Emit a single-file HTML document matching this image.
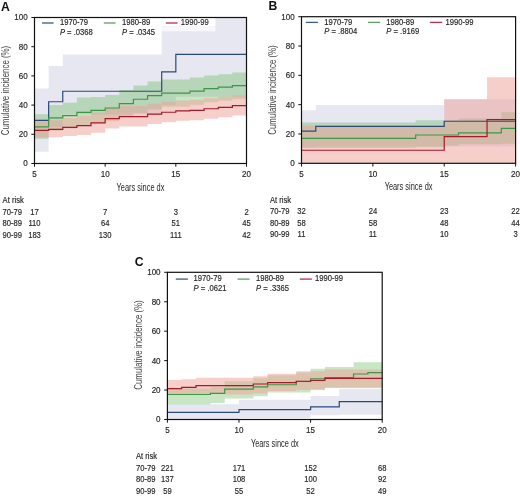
<!DOCTYPE html>
<html><head><meta charset="utf-8"><style>
html,body{margin:0;padding:0;background:#fff;}
body{width:520px;height:496px;overflow:hidden;}
svg{display:block;will-change:transform;font-family:"Liberation Sans", sans-serif;}
.s{stroke:#262626;stroke-width:0.16px;}
</style></head><body>
<svg width="520" height="496" viewBox="0 0 520 496">
<rect width="520" height="496" fill="#fff"/>
<g>
<path d="M34.5 88.6L48.63 88.6L48.63 65.97L62.77 65.97L62.77 54.58L161.7 54.58L161.7 17.5L246.5 17.5L246.5 96.78L175.83 96.78L175.83 105.1L161.7 105.1L161.7 114.59L62.77 114.59L62.77 127L48.63 127L48.63 151.82L34.5 151.82Z" fill="#8787b9" fill-opacity="0.2"/>
<path d="M34.5 114.3L48.63 114.3L48.63 105.1L62.77 105.1L62.77 102.76L76.9 102.76L76.9 97.51L91.03 97.51L91.03 97.07L105.17 97.07L105.17 94.88L119.3 94.88L119.3 89.92L133.43 89.92L133.43 85.39L147.57 85.39L147.57 81.45L161.7 81.45L161.7 79.4L175.83 79.4L175.83 79.4L189.97 79.4L189.97 77.51L204.1 77.51L204.1 75.46L218.23 75.46L218.23 74.15L232.37 74.15L232.37 72.54L246.5 72.54L246.5 99.26L232.37 99.26L232.37 100.72L218.23 100.72L218.23 102.18L204.1 102.18L204.1 104.66L189.97 104.66L189.97 106.71L175.83 106.71L175.83 106.71L161.7 106.71L161.7 109.48L147.57 109.48L147.57 113.13L133.43 113.13L133.43 116.78L119.3 116.78L119.3 121.16L105.17 121.16L105.17 123.35L91.03 123.35L91.03 125.54L76.9 125.54L76.9 128.46L62.77 128.46L62.77 130.65L48.63 130.65L48.63 138.68L34.5 138.68Z" fill="#48ac37" fill-opacity="0.3"/>
<path d="M34.5 121.6L48.63 121.6L48.63 120.21L62.77 120.21L62.77 117.95L76.9 117.95L76.9 115.69L91.03 115.69L91.03 112.69L105.17 112.69L105.17 108.02L119.3 108.02L119.3 106.12L133.43 106.12L133.43 106.12L147.57 106.12L147.57 103.64L161.7 103.64L161.7 101.74L175.83 101.74L175.83 100.43L189.97 100.43L189.97 99.84L204.1 99.84L204.1 98.24L218.23 98.24L218.23 96.78L232.37 96.78L232.37 95.17L246.5 95.17L246.5 115.61L232.37 115.61L232.37 117.22L218.23 117.22L218.23 118.68L204.1 118.68L204.1 120.28L189.97 120.28L189.97 120.87L175.83 120.87L175.83 122.18L161.7 122.18L161.7 124.08L147.57 124.08L147.57 126.56L133.43 126.56L133.43 126.56L119.3 126.56L119.3 128.46L105.17 128.46L105.17 132.84L91.03 132.84L91.03 134.96L76.9 134.96L76.9 136.05L62.77 136.05L62.77 137.15L48.63 137.15L48.63 137.37L34.5 137.37Z" fill="#eea098" fill-opacity="0.5"/>
<path d="M34.5 120.43H48.63V101.74H62.77V91.23H161.7V71.96H175.83V54.29H246.5" fill="none" stroke="#2c4a78" stroke-width="1.2"/>
<path d="M34.5 126.85H48.63V117.95H62.77V115.61H76.9V112.4H91.03V110.36H105.17V108.02H119.3V103.64H133.43V99.26H147.57V95.61H161.7V93.13H175.83V93.13H189.97V91.08H204.1V88.6H218.23V87.14H232.37V85.54H246.5" fill="none" stroke="#3c9646" stroke-width="1.2"/>
<path d="M34.5 130.36H48.63V129.34H62.77V127.44H76.9V125.54H91.03V122.91H105.17V118.53H119.3V116.63H133.43V116.63H147.57V114.15H161.7V112.25H175.83V110.94H189.97V110.36H204.1V108.75H218.23V107.29H232.37V105.68H246.5" fill="none" stroke="#a51928" stroke-width="1.2"/>
<rect x="35.1" y="18.1" width="180.3" height="8.2" fill="#fff"/>
<rect x="35.1" y="26.3" width="180.3" height="5" fill="#fff" fill-opacity="0.7"/>
<path d="M42.1 23H53.6" stroke="#3a5a88" stroke-width="1.3"/>
<text transform="translate(59.9 25.2) scale(0.9 1)" font-size="8.5" text-anchor="start" font-weight="normal" fill="#262626" class="s">1970-79</text>
<text transform="translate(59.9 34.6) scale(0.9 1)" font-size="8.5" fill="#262626" class="s"><tspan font-style="italic">P</tspan> = .0368</text>
<path d="M103.8 23H115.6" stroke="#5aa062" stroke-width="1.3"/>
<text transform="translate(122.1 25.2) scale(0.9 1)" font-size="8.5" text-anchor="start" font-weight="normal" fill="#262626" class="s">1980-89</text>
<text transform="translate(122.1 34.6) scale(0.9 1)" font-size="8.5" fill="#262626" class="s"><tspan font-style="italic">P</tspan> = .0345</text>
<path d="M165.8 23H177.6" stroke="#b43250" stroke-width="1.3"/>
<text transform="translate(180.8 25.2) scale(0.9 1)" font-size="8.5" text-anchor="start" font-weight="normal" fill="#262626" class="s">1990-99</text>
<rect x="34.5" y="17.5" width="212" height="146" fill="none" stroke="#111" stroke-width="1.2"/>
<path d="M31.3 163.5H34.5" stroke="#111" stroke-width="1"/>
<text transform="translate(27.7 166.4) scale(0.96 1)" font-size="8.4" text-anchor="end" font-weight="normal" fill="#262626" class="s">0</text>
<path d="M31.3 134.3H34.5" stroke="#111" stroke-width="1"/>
<text transform="translate(27.7 137.2) scale(0.96 1)" font-size="8.4" text-anchor="end" font-weight="normal" fill="#262626" class="s">20</text>
<path d="M31.3 105.1H34.5" stroke="#111" stroke-width="1"/>
<text transform="translate(27.7 108) scale(0.96 1)" font-size="8.4" text-anchor="end" font-weight="normal" fill="#262626" class="s">40</text>
<path d="M31.3 75.9H34.5" stroke="#111" stroke-width="1"/>
<text transform="translate(27.7 78.8) scale(0.96 1)" font-size="8.4" text-anchor="end" font-weight="normal" fill="#262626" class="s">60</text>
<path d="M31.3 46.7H34.5" stroke="#111" stroke-width="1"/>
<text transform="translate(27.7 49.6) scale(0.96 1)" font-size="8.4" text-anchor="end" font-weight="normal" fill="#262626" class="s">80</text>
<path d="M31.3 17.5H34.5" stroke="#111" stroke-width="1"/>
<text transform="translate(27.7 20.4) scale(0.96 1)" font-size="8.4" text-anchor="end" font-weight="normal" fill="#262626" class="s">100</text>
<path d="M34.5 163.5V166.7" stroke="#111" stroke-width="1"/>
<text transform="translate(34.5 176.9) scale(0.96 1)" font-size="8.4" text-anchor="middle" font-weight="normal" fill="#262626" class="s">5</text>
<path d="M105.17 163.5V166.7" stroke="#111" stroke-width="1"/>
<text transform="translate(105.17 176.9) scale(0.96 1)" font-size="8.4" text-anchor="middle" font-weight="normal" fill="#262626" class="s">10</text>
<path d="M175.83 163.5V166.7" stroke="#111" stroke-width="1"/>
<text transform="translate(175.83 176.9) scale(0.96 1)" font-size="8.4" text-anchor="middle" font-weight="normal" fill="#262626" class="s">15</text>
<path d="M246.5 163.5V166.7" stroke="#111" stroke-width="1"/>
<text transform="translate(246.5 176.9) scale(0.96 1)" font-size="8.4" text-anchor="middle" font-weight="normal" fill="#262626" class="s">20</text>
<text x="140.5" y="190.5" font-size="10" text-anchor="middle" fill="#262626" textLength="47.8" lengthAdjust="spacingAndGlyphs">Years since dx</text>
<text transform="translate(8.7 90.5) rotate(-90)" x="0" y="0" font-size="10" text-anchor="middle" fill="#444" textLength="89.5" lengthAdjust="spacingAndGlyphs">Cumulative incidence (%)</text>
<text x="1.1" y="10.8" font-size="12.2" text-anchor="start" font-weight="bold" fill="#111">A</text>
<text transform="translate(2.6 203.1) scale(0.93 1)" font-size="8.2" text-anchor="start" font-weight="normal" fill="#262626" class="s">At risk</text>
<text transform="translate(2.6 214.6) scale(0.93 1)" font-size="8.2" text-anchor="start" font-weight="normal" fill="#262626" class="s">70-79</text>
<text transform="translate(34.5 214.6) scale(0.93 1)" font-size="8.2" text-anchor="middle" font-weight="normal" fill="#262626" class="s">17</text>
<text transform="translate(105.17 214.6) scale(0.93 1)" font-size="8.2" text-anchor="middle" font-weight="normal" fill="#262626" class="s">7</text>
<text transform="translate(175.83 214.6) scale(0.93 1)" font-size="8.2" text-anchor="middle" font-weight="normal" fill="#262626" class="s">3</text>
<text transform="translate(246.5 214.6) scale(0.93 1)" font-size="8.2" text-anchor="middle" font-weight="normal" fill="#262626" class="s">2</text>
<text transform="translate(2.6 226.1) scale(0.93 1)" font-size="8.2" text-anchor="start" font-weight="normal" fill="#262626" class="s">80-89</text>
<text transform="translate(34.5 226.1) scale(0.93 1)" font-size="8.2" text-anchor="middle" font-weight="normal" fill="#262626" class="s">110</text>
<text transform="translate(105.17 226.1) scale(0.93 1)" font-size="8.2" text-anchor="middle" font-weight="normal" fill="#262626" class="s">64</text>
<text transform="translate(175.83 226.1) scale(0.93 1)" font-size="8.2" text-anchor="middle" font-weight="normal" fill="#262626" class="s">51</text>
<text transform="translate(246.5 226.1) scale(0.93 1)" font-size="8.2" text-anchor="middle" font-weight="normal" fill="#262626" class="s">45</text>
<text transform="translate(2.6 237.6) scale(0.93 1)" font-size="8.2" text-anchor="start" font-weight="normal" fill="#262626" class="s">90-99</text>
<text transform="translate(34.5 237.6) scale(0.93 1)" font-size="8.2" text-anchor="middle" font-weight="normal" fill="#262626" class="s">183</text>
<text transform="translate(105.17 237.6) scale(0.93 1)" font-size="8.2" text-anchor="middle" font-weight="normal" fill="#262626" class="s">130</text>
<text transform="translate(175.83 237.6) scale(0.93 1)" font-size="8.2" text-anchor="middle" font-weight="normal" fill="#262626" class="s">111</text>
<text transform="translate(246.5 237.6) scale(0.93 1)" font-size="8.2" text-anchor="middle" font-weight="normal" fill="#262626" class="s">42</text>
</g>
<path d="M301.5 110.23L315.77 110.23L315.77 104.95L444.23 104.95L444.23 99.24L515.6 99.24L515.6 146.44L444.23 146.44L444.23 146.44L315.77 146.44L315.77 147.17L301.5 147.17Z" fill="#8787b9" fill-opacity="0.2"/>
<path d="M301.5 122.55L415.69 122.55L415.69 120.2L458.51 120.2L458.51 118.59L501.33 118.59L501.33 112.14L515.6 112.14L515.6 143.8L501.33 143.8L501.33 144.24L458.51 144.24L458.51 145.71L444.23 145.71L444.23 147.17L415.69 147.17L415.69 147.91L301.5 147.91Z" fill="#48ac37" fill-opacity="0.3"/>
<path d="M301.5 125.77L444.23 125.77L444.23 99.24L487.05 99.24L487.05 77.25L515.6 77.25L515.6 163.3L487.05 163.3L487.05 163.3L444.23 163.3L444.23 163.3L301.5 163.3Z" fill="#eea098" fill-opacity="0.5"/>
<path d="M301.5 131.05H315.77V126.36H444.23V121.23H515.6" fill="none" stroke="#2c4a78" stroke-width="1.2"/>
<path d="M301.5 138.38H415.69V135.01H458.51V132.95H501.33V128.41H515.6" fill="none" stroke="#3c9646" stroke-width="1.2"/>
<path d="M301.5 150.25H444.23V136.62H487.05V119.61H515.6" fill="none" stroke="#a51928" stroke-width="1.2"/>
<path d="M305.8 22.4H317.9" stroke="#3a5a88" stroke-width="1.3"/>
<text transform="translate(324.3 25) scale(0.9 1)" font-size="8.5" text-anchor="start" font-weight="normal" fill="#262626" class="s">1970-79</text>
<text transform="translate(324.3 33.7) scale(0.9 1)" font-size="8.5" fill="#262626" class="s"><tspan font-style="italic">P</tspan> = .8804</text>
<path d="M368 22.4H380.2" stroke="#5aa062" stroke-width="1.3"/>
<text transform="translate(386.3 25) scale(0.9 1)" font-size="8.5" text-anchor="start" font-weight="normal" fill="#262626" class="s">1980-89</text>
<text transform="translate(386.3 33.7) scale(0.9 1)" font-size="8.5" fill="#262626" class="s"><tspan font-style="italic">P</tspan> = .9169</text>
<path d="M429.8 22.4H442.2" stroke="#b43250" stroke-width="1.3"/>
<text transform="translate(445.5 25) scale(0.9 1)" font-size="8.5" text-anchor="start" font-weight="normal" fill="#262626" class="s">1990-99</text>
<rect x="301.5" y="16.7" width="214.1" height="146.6" fill="none" stroke="#111" stroke-width="1.2"/>
<path d="M298.3 163.3H301.5" stroke="#111" stroke-width="1"/>
<text transform="translate(294.7 166.2) scale(0.96 1)" font-size="8.4" text-anchor="end" font-weight="normal" fill="#262626" class="s">0</text>
<path d="M298.3 133.98H301.5" stroke="#111" stroke-width="1"/>
<text transform="translate(294.7 136.88) scale(0.96 1)" font-size="8.4" text-anchor="end" font-weight="normal" fill="#262626" class="s">20</text>
<path d="M298.3 104.66H301.5" stroke="#111" stroke-width="1"/>
<text transform="translate(294.7 107.56) scale(0.96 1)" font-size="8.4" text-anchor="end" font-weight="normal" fill="#262626" class="s">40</text>
<path d="M298.3 75.34H301.5" stroke="#111" stroke-width="1"/>
<text transform="translate(294.7 78.24) scale(0.96 1)" font-size="8.4" text-anchor="end" font-weight="normal" fill="#262626" class="s">60</text>
<path d="M298.3 46.02H301.5" stroke="#111" stroke-width="1"/>
<text transform="translate(294.7 48.92) scale(0.96 1)" font-size="8.4" text-anchor="end" font-weight="normal" fill="#262626" class="s">80</text>
<path d="M298.3 16.7H301.5" stroke="#111" stroke-width="1"/>
<text transform="translate(294.7 19.6) scale(0.96 1)" font-size="8.4" text-anchor="end" font-weight="normal" fill="#262626" class="s">100</text>
<path d="M301.5 163.3V166.5" stroke="#111" stroke-width="1"/>
<text transform="translate(301.5 176.7) scale(0.96 1)" font-size="8.4" text-anchor="middle" font-weight="normal" fill="#262626" class="s">5</text>
<path d="M372.87 163.3V166.5" stroke="#111" stroke-width="1"/>
<text transform="translate(372.87 176.7) scale(0.96 1)" font-size="8.4" text-anchor="middle" font-weight="normal" fill="#262626" class="s">10</text>
<path d="M444.23 163.3V166.5" stroke="#111" stroke-width="1"/>
<text transform="translate(444.23 176.7) scale(0.96 1)" font-size="8.4" text-anchor="middle" font-weight="normal" fill="#262626" class="s">15</text>
<path d="M515.6 163.3V166.5" stroke="#111" stroke-width="1"/>
<text transform="translate(515.6 176.7) scale(0.96 1)" font-size="8.4" text-anchor="middle" font-weight="normal" fill="#262626" class="s">20</text>
<text x="408.55" y="190.3" font-size="10" text-anchor="middle" fill="#262626" textLength="47.8" lengthAdjust="spacingAndGlyphs">Years since dx</text>
<text transform="translate(275.7 90) rotate(-90)" x="0" y="0" font-size="10" text-anchor="middle" fill="#444" textLength="89.5" lengthAdjust="spacingAndGlyphs">Cumulative incidence (%)</text>
<text x="268.6" y="9.7" font-size="12.2" text-anchor="start" font-weight="bold" fill="#111">B</text>
<text transform="translate(270 202.9) scale(0.93 1)" font-size="8.2" text-anchor="start" font-weight="normal" fill="#262626" class="s">At risk</text>
<text transform="translate(270 214.4) scale(0.93 1)" font-size="8.2" text-anchor="start" font-weight="normal" fill="#262626" class="s">70-79</text>
<text transform="translate(301.5 214.4) scale(0.93 1)" font-size="8.2" text-anchor="middle" font-weight="normal" fill="#262626" class="s">32</text>
<text transform="translate(372.87 214.4) scale(0.93 1)" font-size="8.2" text-anchor="middle" font-weight="normal" fill="#262626" class="s">24</text>
<text transform="translate(444.23 214.4) scale(0.93 1)" font-size="8.2" text-anchor="middle" font-weight="normal" fill="#262626" class="s">23</text>
<text transform="translate(515.6 214.4) scale(0.93 1)" font-size="8.2" text-anchor="middle" font-weight="normal" fill="#262626" class="s">22</text>
<text transform="translate(270 225.9) scale(0.93 1)" font-size="8.2" text-anchor="start" font-weight="normal" fill="#262626" class="s">80-89</text>
<text transform="translate(301.5 225.9) scale(0.93 1)" font-size="8.2" text-anchor="middle" font-weight="normal" fill="#262626" class="s">58</text>
<text transform="translate(372.87 225.9) scale(0.93 1)" font-size="8.2" text-anchor="middle" font-weight="normal" fill="#262626" class="s">58</text>
<text transform="translate(444.23 225.9) scale(0.93 1)" font-size="8.2" text-anchor="middle" font-weight="normal" fill="#262626" class="s">48</text>
<text transform="translate(515.6 225.9) scale(0.93 1)" font-size="8.2" text-anchor="middle" font-weight="normal" fill="#262626" class="s">44</text>
<text transform="translate(270 237.4) scale(0.93 1)" font-size="8.2" text-anchor="start" font-weight="normal" fill="#262626" class="s">90-99</text>
<text transform="translate(301.5 237.4) scale(0.93 1)" font-size="8.2" text-anchor="middle" font-weight="normal" fill="#262626" class="s">11</text>
<text transform="translate(372.87 237.4) scale(0.93 1)" font-size="8.2" text-anchor="middle" font-weight="normal" fill="#262626" class="s">11</text>
<text transform="translate(444.23 237.4) scale(0.93 1)" font-size="8.2" text-anchor="middle" font-weight="normal" fill="#262626" class="s">10</text>
<text transform="translate(515.6 237.4) scale(0.93 1)" font-size="8.2" text-anchor="middle" font-weight="normal" fill="#262626" class="s">3</text>
<path d="M167.4 404.34L239 404.34L239 399.78L310.6 399.78L310.6 396.1L339.24 396.1L339.24 388.74L382.2 388.74L382.2 414.64L339.24 414.64L339.24 415.23L310.6 415.23L310.6 418.03L239 418.03L239 419.5L167.4 419.5Z" fill="#8787b9" fill-opacity="0.2"/>
<path d="M167.4 388.59L210.36 388.59L210.36 387.12L224.68 387.12L224.68 381.23L253.32 381.23L253.32 378.28L267.64 378.28L267.64 375.34L296.28 375.34L296.28 372.4L310.6 372.4L310.6 368.72L324.92 368.72L324.92 366.95L353.56 366.95L353.56 362.24L382.2 362.24L382.2 387.85L324.92 387.85L324.92 390.35L310.6 390.35L310.6 392.56L267.64 392.56L267.64 396.24L253.32 396.24L253.32 398.45L224.68 398.45L224.68 403.01L210.36 403.01L210.36 404.49L167.4 404.49Z" fill="#48ac37" fill-opacity="0.3"/>
<path d="M167.4 380.05L181.72 380.05L181.72 379.31L196.04 379.31L196.04 377.84L253.32 377.84L253.32 376.22L267.64 376.22L267.64 373.87L296.28 373.87L296.28 371.37L324.92 371.37L324.92 369.45L382.2 369.45L382.2 387.85L324.92 387.85L324.92 389.18L310.6 389.18L310.6 390.06L296.28 390.06L296.28 391.09L267.64 391.09L267.64 393.59L253.32 393.59L253.32 394.48L224.68 394.48L224.68 393.74L196.04 393.74L196.04 394.03L181.72 394.03L181.72 394.48L167.4 394.48Z" fill="#eea098" fill-opacity="0.5"/>
<path d="M167.4 412.43H239V409.64H310.6V406.84H339.24V401.54H382.2" fill="none" stroke="#2c4a78" stroke-width="1.2"/>
<path d="M167.4 394.48H210.36V393.45H224.68V389.03H253.32V386.97H267.64V384.76H296.28V381.52H310.6V378.87H324.92V377.7H353.56V374.02H367.88V372.69H382.2" fill="none" stroke="#3c9646" stroke-width="1.2"/>
<path d="M167.4 388.59H181.72V387.41H196.04V385.64H253.32V384.02H267.64V382.55H296.28V381.23H310.6V380.49H324.92V378.43H382.2" fill="none" stroke="#a51928" stroke-width="1.2"/>
<path d="M175.8 279.1H187.9" stroke="#3a5a88" stroke-width="1.3"/>
<text transform="translate(193.6 281.1) scale(0.9 1)" font-size="8.5" text-anchor="start" font-weight="normal" fill="#262626" class="s">1970-79</text>
<text transform="translate(193.6 290.6) scale(0.9 1)" font-size="8.5" fill="#262626" class="s"><tspan font-style="italic">P</tspan> = .0621</text>
<path d="M237.5 279.1H249.6" stroke="#5aa062" stroke-width="1.3"/>
<text transform="translate(256 281.1) scale(0.9 1)" font-size="8.5" text-anchor="start" font-weight="normal" fill="#262626" class="s">1980-89</text>
<text transform="translate(256 290.6) scale(0.9 1)" font-size="8.5" fill="#262626" class="s"><tspan font-style="italic">P</tspan> = .3365</text>
<path d="M299.8 279.1H311.9" stroke="#b43250" stroke-width="1.3"/>
<text transform="translate(314.9 281.1) scale(0.9 1)" font-size="8.5" text-anchor="start" font-weight="normal" fill="#262626" class="s">1990-99</text>
<rect x="167.4" y="272.3" width="214.8" height="147.2" fill="none" stroke="#111" stroke-width="1.2"/>
<path d="M164.2 419.5H167.4" stroke="#111" stroke-width="1"/>
<text transform="translate(160.6 422.4) scale(0.96 1)" font-size="8.4" text-anchor="end" font-weight="normal" fill="#262626" class="s">0</text>
<path d="M164.2 390.06H167.4" stroke="#111" stroke-width="1"/>
<text transform="translate(160.6 392.96) scale(0.96 1)" font-size="8.4" text-anchor="end" font-weight="normal" fill="#262626" class="s">20</text>
<path d="M164.2 360.62H167.4" stroke="#111" stroke-width="1"/>
<text transform="translate(160.6 363.52) scale(0.96 1)" font-size="8.4" text-anchor="end" font-weight="normal" fill="#262626" class="s">40</text>
<path d="M164.2 331.18H167.4" stroke="#111" stroke-width="1"/>
<text transform="translate(160.6 334.08) scale(0.96 1)" font-size="8.4" text-anchor="end" font-weight="normal" fill="#262626" class="s">60</text>
<path d="M164.2 301.74H167.4" stroke="#111" stroke-width="1"/>
<text transform="translate(160.6 304.64) scale(0.96 1)" font-size="8.4" text-anchor="end" font-weight="normal" fill="#262626" class="s">80</text>
<path d="M164.2 272.3H167.4" stroke="#111" stroke-width="1"/>
<text transform="translate(160.6 275.2) scale(0.96 1)" font-size="8.4" text-anchor="end" font-weight="normal" fill="#262626" class="s">100</text>
<path d="M167.4 419.5V422.7" stroke="#111" stroke-width="1"/>
<text transform="translate(167.4 432.9) scale(0.96 1)" font-size="8.4" text-anchor="middle" font-weight="normal" fill="#262626" class="s">5</text>
<path d="M239 419.5V422.7" stroke="#111" stroke-width="1"/>
<text transform="translate(239 432.9) scale(0.96 1)" font-size="8.4" text-anchor="middle" font-weight="normal" fill="#262626" class="s">10</text>
<path d="M310.6 419.5V422.7" stroke="#111" stroke-width="1"/>
<text transform="translate(310.6 432.9) scale(0.96 1)" font-size="8.4" text-anchor="middle" font-weight="normal" fill="#262626" class="s">15</text>
<path d="M382.2 419.5V422.7" stroke="#111" stroke-width="1"/>
<text transform="translate(382.2 432.9) scale(0.96 1)" font-size="8.4" text-anchor="middle" font-weight="normal" fill="#262626" class="s">20</text>
<text x="274.8" y="446.5" font-size="10" text-anchor="middle" fill="#262626" textLength="47.8" lengthAdjust="spacingAndGlyphs">Years since dx</text>
<text transform="translate(141.6 345) rotate(-90)" x="0" y="0" font-size="10" text-anchor="middle" fill="#444" textLength="89.5" lengthAdjust="spacingAndGlyphs">Cumulative incidence (%)</text>
<text x="134.7" y="266.1" font-size="12.2" text-anchor="start" font-weight="bold" fill="#111">C</text>
<text transform="translate(136 459.1) scale(0.93 1)" font-size="8.2" text-anchor="start" font-weight="normal" fill="#262626" class="s">At risk</text>
<text transform="translate(136 470.6) scale(0.93 1)" font-size="8.2" text-anchor="start" font-weight="normal" fill="#262626" class="s">70-79</text>
<text transform="translate(167.4 470.6) scale(0.93 1)" font-size="8.2" text-anchor="middle" font-weight="normal" fill="#262626" class="s">221</text>
<text transform="translate(239 470.6) scale(0.93 1)" font-size="8.2" text-anchor="middle" font-weight="normal" fill="#262626" class="s">171</text>
<text transform="translate(310.6 470.6) scale(0.93 1)" font-size="8.2" text-anchor="middle" font-weight="normal" fill="#262626" class="s">152</text>
<text transform="translate(382.2 470.6) scale(0.93 1)" font-size="8.2" text-anchor="middle" font-weight="normal" fill="#262626" class="s">68</text>
<text transform="translate(136 482.1) scale(0.93 1)" font-size="8.2" text-anchor="start" font-weight="normal" fill="#262626" class="s">80-89</text>
<text transform="translate(167.4 482.1) scale(0.93 1)" font-size="8.2" text-anchor="middle" font-weight="normal" fill="#262626" class="s">137</text>
<text transform="translate(239 482.1) scale(0.93 1)" font-size="8.2" text-anchor="middle" font-weight="normal" fill="#262626" class="s">108</text>
<text transform="translate(310.6 482.1) scale(0.93 1)" font-size="8.2" text-anchor="middle" font-weight="normal" fill="#262626" class="s">100</text>
<text transform="translate(382.2 482.1) scale(0.93 1)" font-size="8.2" text-anchor="middle" font-weight="normal" fill="#262626" class="s">92</text>
<text transform="translate(136 493.6) scale(0.93 1)" font-size="8.2" text-anchor="start" font-weight="normal" fill="#262626" class="s">90-99</text>
<text transform="translate(167.4 493.6) scale(0.93 1)" font-size="8.2" text-anchor="middle" font-weight="normal" fill="#262626" class="s">59</text>
<text transform="translate(239 493.6) scale(0.93 1)" font-size="8.2" text-anchor="middle" font-weight="normal" fill="#262626" class="s">55</text>
<text transform="translate(310.6 493.6) scale(0.93 1)" font-size="8.2" text-anchor="middle" font-weight="normal" fill="#262626" class="s">52</text>
<text transform="translate(382.2 493.6) scale(0.93 1)" font-size="8.2" text-anchor="middle" font-weight="normal" fill="#262626" class="s">49</text>
</svg>
</body></html>
